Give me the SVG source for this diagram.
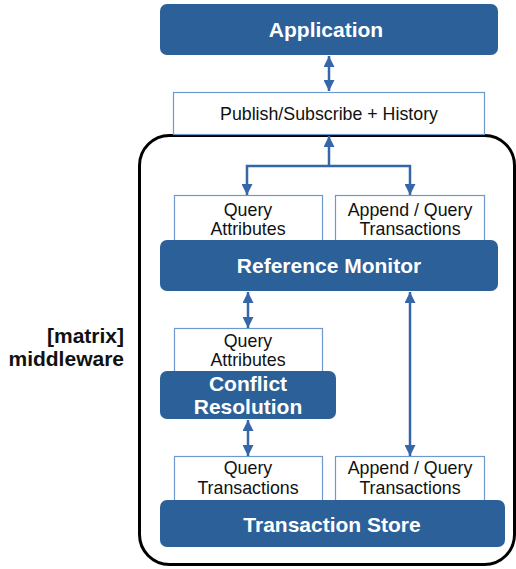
<svg xmlns="http://www.w3.org/2000/svg" width="516" height="569" viewBox="0 0 516 569">
<style>
.node{fill:#2c6098;}
.box{fill:#fff;stroke:#6f98cc;stroke-width:1.2;}
.t{font-family:"Liberation Sans",Arial,sans-serif;font-size:17.8px;fill:#111;text-anchor:middle;}
.tb{font-family:"Liberation Sans",Arial,sans-serif;font-size:21px;font-weight:bold;fill:#fff;text-anchor:middle;}
.lbl{font-family:"Liberation Sans",Arial,sans-serif;font-size:21px;font-weight:bold;fill:#111;text-anchor:end;}
.c{stroke:#3566a8;stroke-width:2.5;fill:none;}
</style>
<defs>
<marker id="ah" viewBox="0 0 10 10" refX="10" refY="5" markerWidth="4.4" markerHeight="4.4" markerUnits="strokeWidth" orient="auto-start-reverse">
<path d="M0,0 L10,5 L0,10 z" fill="#3566a8"/>
</marker>
</defs>
<rect id="middleware-frame" x="139.5" y="135.5" width="375" height="429" rx="30" fill="none" stroke="#000" stroke-width="3"/>
<g id="pubsub"><rect class="box" x="173.5" y="92.5" width="311" height="42"/><text class="t" x="329" y="119.5">Publish/Subscribe + History</text></g>
<g id="app"><rect class="node" x="160" y="4" width="338" height="51" rx="7"/><text class="tb" x="326" y="37">Application</text></g>
<g id="qa1"><rect class="box" x="174.5" y="195.5" width="148" height="50"/><text class="t" x="248" y="216">Query</text><text class="t" x="248" y="235">Attributes</text></g>
<g id="aq1"><rect class="box" x="335.5" y="195.5" width="149" height="50"/><text class="t" x="410" y="216">Append / Query</text><text class="t" x="410" y="235">Transactions</text></g>
<g id="refmon"><rect class="node" x="160" y="240" width="338" height="51" rx="7"/><text class="tb" x="329" y="273">Reference Monitor</text></g>
<g id="qa2"><rect class="box" x="174.5" y="328.5" width="148" height="48"/><text class="t" x="248" y="347">Query</text><text class="t" x="248" y="366">Attributes</text></g>
<g id="conflict"><rect class="node" x="160" y="371" width="176" height="48" rx="7"/><text class="tb" x="248" y="391">Conflict</text><text class="tb" x="248" y="414">Resolution</text></g>
<g id="qt"><rect class="box" x="174.5" y="456.5" width="148" height="48"/><text class="t" x="248" y="474">Query</text><text class="t" x="248" y="494">Transactions</text></g>
<g id="aq2"><rect class="box" x="335.5" y="456.5" width="149" height="48"/><text class="t" x="410" y="474">Append / Query</text><text class="t" x="410" y="494">Transactions</text></g>
<g id="store"><rect class="node" x="160" y="500" width="345" height="47" rx="7"/><text class="tb" x="332" y="532">Transaction Store</text></g>
<g id="label"><text class="lbl" x="124" y="343">[matrix]</text><text class="lbl" x="124" y="366">middleware</text></g>
<g id="connectors">
<path class="c" d="M329,56 L329,91" marker-start="url(#ah)" marker-end="url(#ah)"/>
<path class="c" d="M329,166 L329,136" marker-end="url(#ah)"/>
<path class="c" d="M329,166 L247,166 L247,195" marker-end="url(#ah)"/>
<path class="c" d="M329,166 L410,166 L410,195" marker-end="url(#ah)"/>
<path class="c" d="M248,292 L248,328" marker-start="url(#ah)" marker-end="url(#ah)"/>
<path class="c" d="M410,292 L410,456" marker-start="url(#ah)" marker-end="url(#ah)"/>
<path class="c" d="M248,420 L248,456" marker-start="url(#ah)" marker-end="url(#ah)"/>
</g>
</svg>
